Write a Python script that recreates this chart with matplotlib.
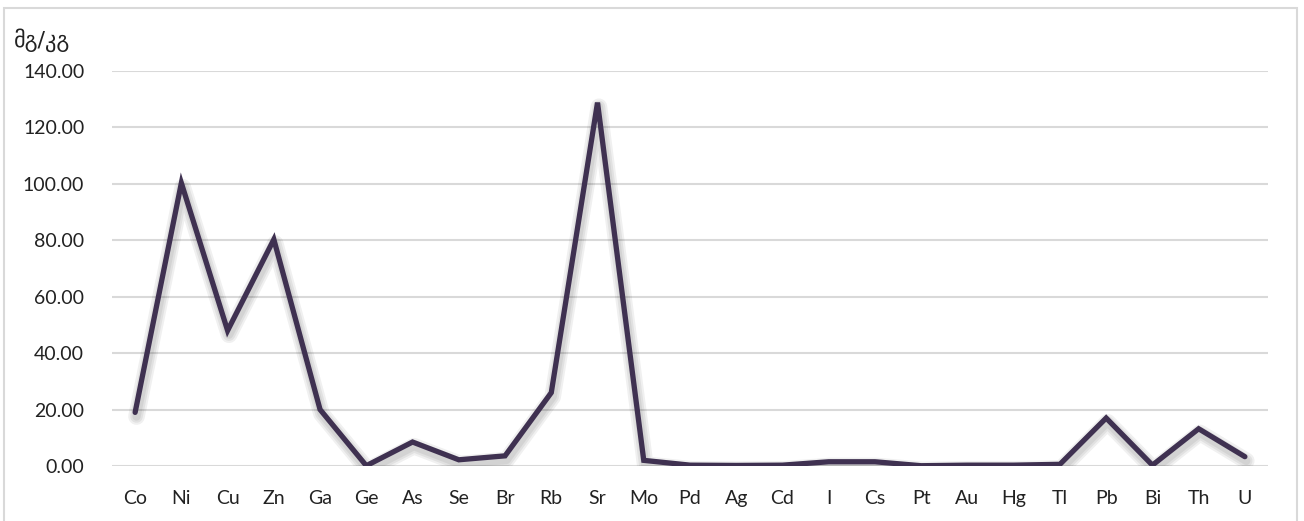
import matplotlib.pyplot as plt
import matplotlib.patheffects as pe
from matplotlib.patches import Rectangle

elements = ["Co", "Ni", "Cu", "Zn", "Ga", "Ge", "As", "Se", "Br", "Rb", "Sr", "Mo", "Pd",
            "Ag", "Cd", "I", "Cs", "Pt", "Au", "Hg", "Tl", "Pb", "Bi", "Th", "U"]
values = [19.0, 100.3, 48.0, 80.3, 20.0, 0.1, 8.5, 2.2, 3.6, 26.0, 128.8, 2.0, 0.3,
          0.2, 0.3, 1.5, 1.5, 0.1, 0.3, 0.3, 0.6, 17.0, 0.3, 13.2, 3.3]
yticks = [0, 20, 40, 60, 80, 100, 120, 140]
unit_label = "მგ/კგ"

plt.rcParams["font.family"] = ["Lato", "DejaVu Sans"]

fig = plt.figure(figsize=(13.04, 5.21), dpi=100)
fig.patches.append(Rectangle((4 / 1304, -0.1), 1293 / 1304, 1.1 - 8 / 521,
                             transform=fig.transFigure, fill=False,
                             edgecolor="#d9d9d9", linewidth=1.5))

ax = fig.add_axes([112 / 1304, 1 - 466 / 521, (1268 - 112) / 1304, (466 - 71) / 521])
x = range(len(elements))

# soft drop shadow built from a few faint layers
shadow = [pe.SimpleLineShadow(offset=(1, -3), shadow_color="black", alpha=0.06,
                              linewidth=w, joinstyle="round")
          for w in (12, 9, 6)]
ax.plot(x, values, color="#3f3151", linewidth=3.8, solid_joinstyle="miter",
        solid_capstyle="round", path_effects=shadow + [pe.Normal()])

ax.set_xlim(-0.5, len(elements) - 0.5)
ax.set_ylim(0, 140)
ax.set_xticks(list(x))
ax.set_xticklabels(elements)
ax.set_yticks(yticks)
ax.set_yticklabels([f"{v:.2f}" for v in yticks])
ax.tick_params(length=0, labelsize=14, colors="#222222")
ax.tick_params(axis="x", pad=17)
ax.tick_params(axis="y", pad=20)
ax.grid(axis="y", color="#d9d9d9", linewidth=1.5)
ax.set_axisbelow(True)
for s in ax.spines.values():
    s.set_visible(False)

fig.text(14 / 1304, 1 - 40 / 521, unit_label, fontsize=16, color="#222222",
         family=["DejaVu Sans"], va="center", ha="left")

fig.savefig("out.png", dpi=100)
